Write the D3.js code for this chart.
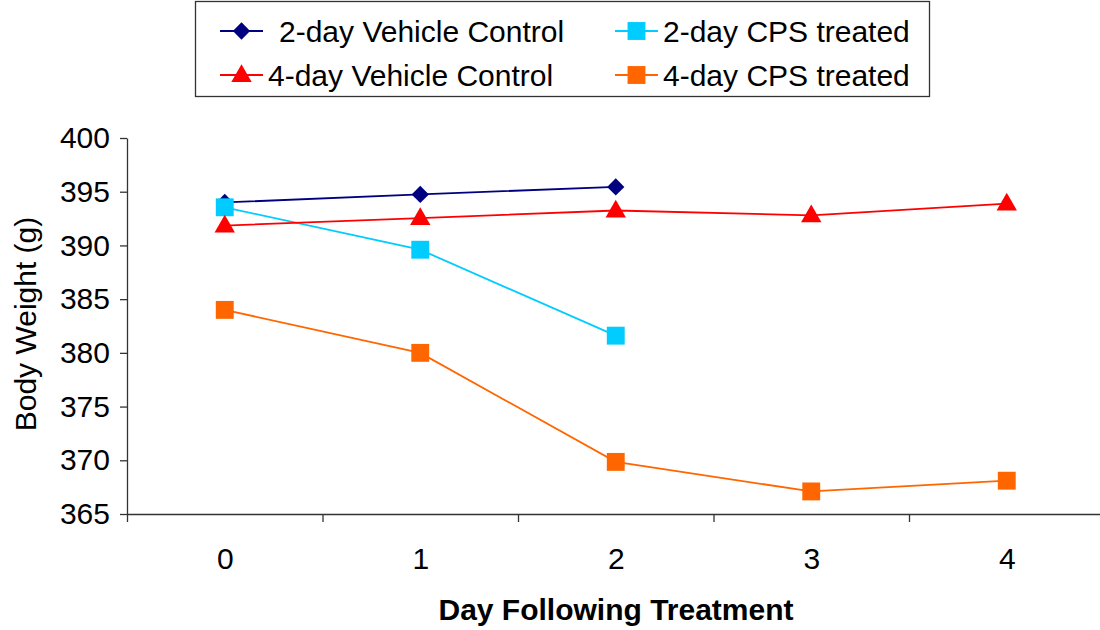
<!DOCTYPE html>
<html>
<head>
  <meta charset='utf-8'>
  <title>Body Weight</title>
  <script src="https://d3js.org/d3.v7.min.js"></script>
  <style>
    body { margin: 0; background: #fff; }
    text { font-family: Arial, 'Liberation Sans', sans-serif; }
  </style>
</head>
<body>
  <svg width=1100 height=630></svg>
<script>

  // data
  let days = [0, 1, 2, 3, 4];
  let yTicks = [365, 370, 375, 380, 385, 390, 395, 400];
  let veh2 = [394.0, 394.75, 395.45];
  let cps2 = [393.55, 389.6, 381.6];
  let veh4 = [391.85, 392.55, 393.25, 392.8, 393.9];
  let cps4 = [384.0, 380.0, 369.85, 367.1, 368.1];

  let seriesNames = ['2-day Vehicle Control', '2-day CPS treated', '4-day Vehicle Control', '4-day CPS treated'];

  let series = [
    {name: seriesNames[0], values: veh2, color: '#000080', shape: 'diamond'},
    {name: seriesNames[1], values: cps2, color: '#00CCFF', shape: 'square'},
    {name: seriesNames[2], values: veh4, color: '#FF0000', shape: 'triangle'},
    {name: seriesNames[3], values: cps4, color: '#FF6600', shape: 'square'}
  ];

  let fontSize = '30px';
  let svg = d3.select('svg');

  let plotLeft = 127, plotRight = 1104.5, plotTop = 138, plotBottom = 514;

  let x = d3.scaleLinear().domain([-0.5, 4.5]).range([plotLeft, plotRight]);
  let y = d3.scaleLinear().domain([365, 400]).range([plotBottom, plotTop]);

  // y axis
  let yAxis = svg.append('g')
    .attr('transform', `translate(${plotLeft},0)`)
    .call(d3.axisLeft(y).tickValues(yTicks).tickSize(7).tickSizeOuter(0).tickPadding(10));
  yAxis.selectAll('text').attr('font-size', fontSize).attr('fill', '#000');

  // x axis: ticks between categories, labels at category centres
  svg.append('g')
    .attr('transform', `translate(0,${plotBottom})`)
    .call(d3.axisBottom(x).tickValues([-0.5, 0.5, 1.5, 2.5, 3.5]).tickFormat('').tickSize(8).tickSizeOuter(0));

  svg.append('g')
    .attr('transform', `translate(0,${plotBottom})`)
    .call(d3.axisBottom(x).tickValues(days).tickFormat(d3.format('d')).tickSize(0).tickPadding(34))
    .call(g => g.select('.domain').remove())
    .selectAll('text').attr('font-size', fontSize).attr('fill', '#000');

  svg.selectAll('.domain, .tick line').attr('stroke', '#333').attr('stroke-width', 1.3);

  // axis titles
  svg.append('text')
    .attr('transform', 'translate(36,324) rotate(-90)')
    .attr('text-anchor', 'middle')
    .attr('font-size', fontSize)
    .text('Body Weight (g)');

  svg.append('text')
    .attr('x', 616)
    .attr('y', 620)
    .attr('text-anchor', 'middle')
    .attr('font-size', fontSize)
    .attr('font-weight', 'bold')
    .text('Day Following Treatment');

  let symbolOf = {
    diamond: d3.symbol().type(d3.symbolDiamond2).size(190),
    square: d3.symbol().type(d3.symbolSquare).size(320),
    triangle: d3.symbol().type(d3.symbolTriangle).size(180)
  };

  let line = d3.line()
    .x((d, i) => x(days[i]))
    .y(d => y(d));

  let groups = svg.selectAll('.series')
    .data(series)
    .enter()
    .append('g')
      .attr('class', 'series');

  groups.append('path')
    .attr('d', d => line(d.values))
    .attr('fill', 'none')
    .attr('stroke', d => d.color)
    .attr('stroke-width', 1.8);

  groups.each(function (s) {
    d3.select(this).selectAll('path.pt')
      .data(s.values)
      .enter()
      .append('path')
        .attr('class', 'pt')
        .attr('d', symbolOf[s.shape])
        .attr('fill', s.color)
        .attr('transform', (d, i) => `translate(${x(days[i])},${y(d) + (s.shape == 'triangle' ? 1 : 0)})`);
  });

  // legend
  let legend = svg.append('g');
  legend.append('rect')
    .attr('x', 195.5).attr('y', 1.5)
    .attr('width', 734).attr('height', 95)
    .attr('fill', '#fff').attr('stroke', '#333').attr('stroke-width', 1.3);

  let legendPos = [
    {lx: 220, ly: 31, tx: 279},
    {lx: 615, ly: 31, tx: 663},
    {lx: 220, ly: 75, tx: 268},
    {lx: 615, ly: 75, tx: 663}
  ];

  series.forEach(function (s, i) {
    let p = legendPos[i];
    let g = legend.append('g');
    g.append('line')
      .attr('x1', p.lx).attr('x2', p.lx + 43)
      .attr('y1', p.ly).attr('y2', p.ly)
      .attr('stroke', s.color).attr('stroke-width', 1.8);
    g.append('path')
      .attr('d', symbolOf[s.shape])
      .attr('fill', s.color)
      .attr('transform', `translate(${p.lx + 21.5},${p.ly + (s.shape == 'triangle' ? 1 : 0)})`);
    g.append('text')
      .attr('x', p.tx).attr('y', p.ly + 10.5)
      .attr('font-size', fontSize)
      .text(s.name);
  });

</script>
</body>
</html>
